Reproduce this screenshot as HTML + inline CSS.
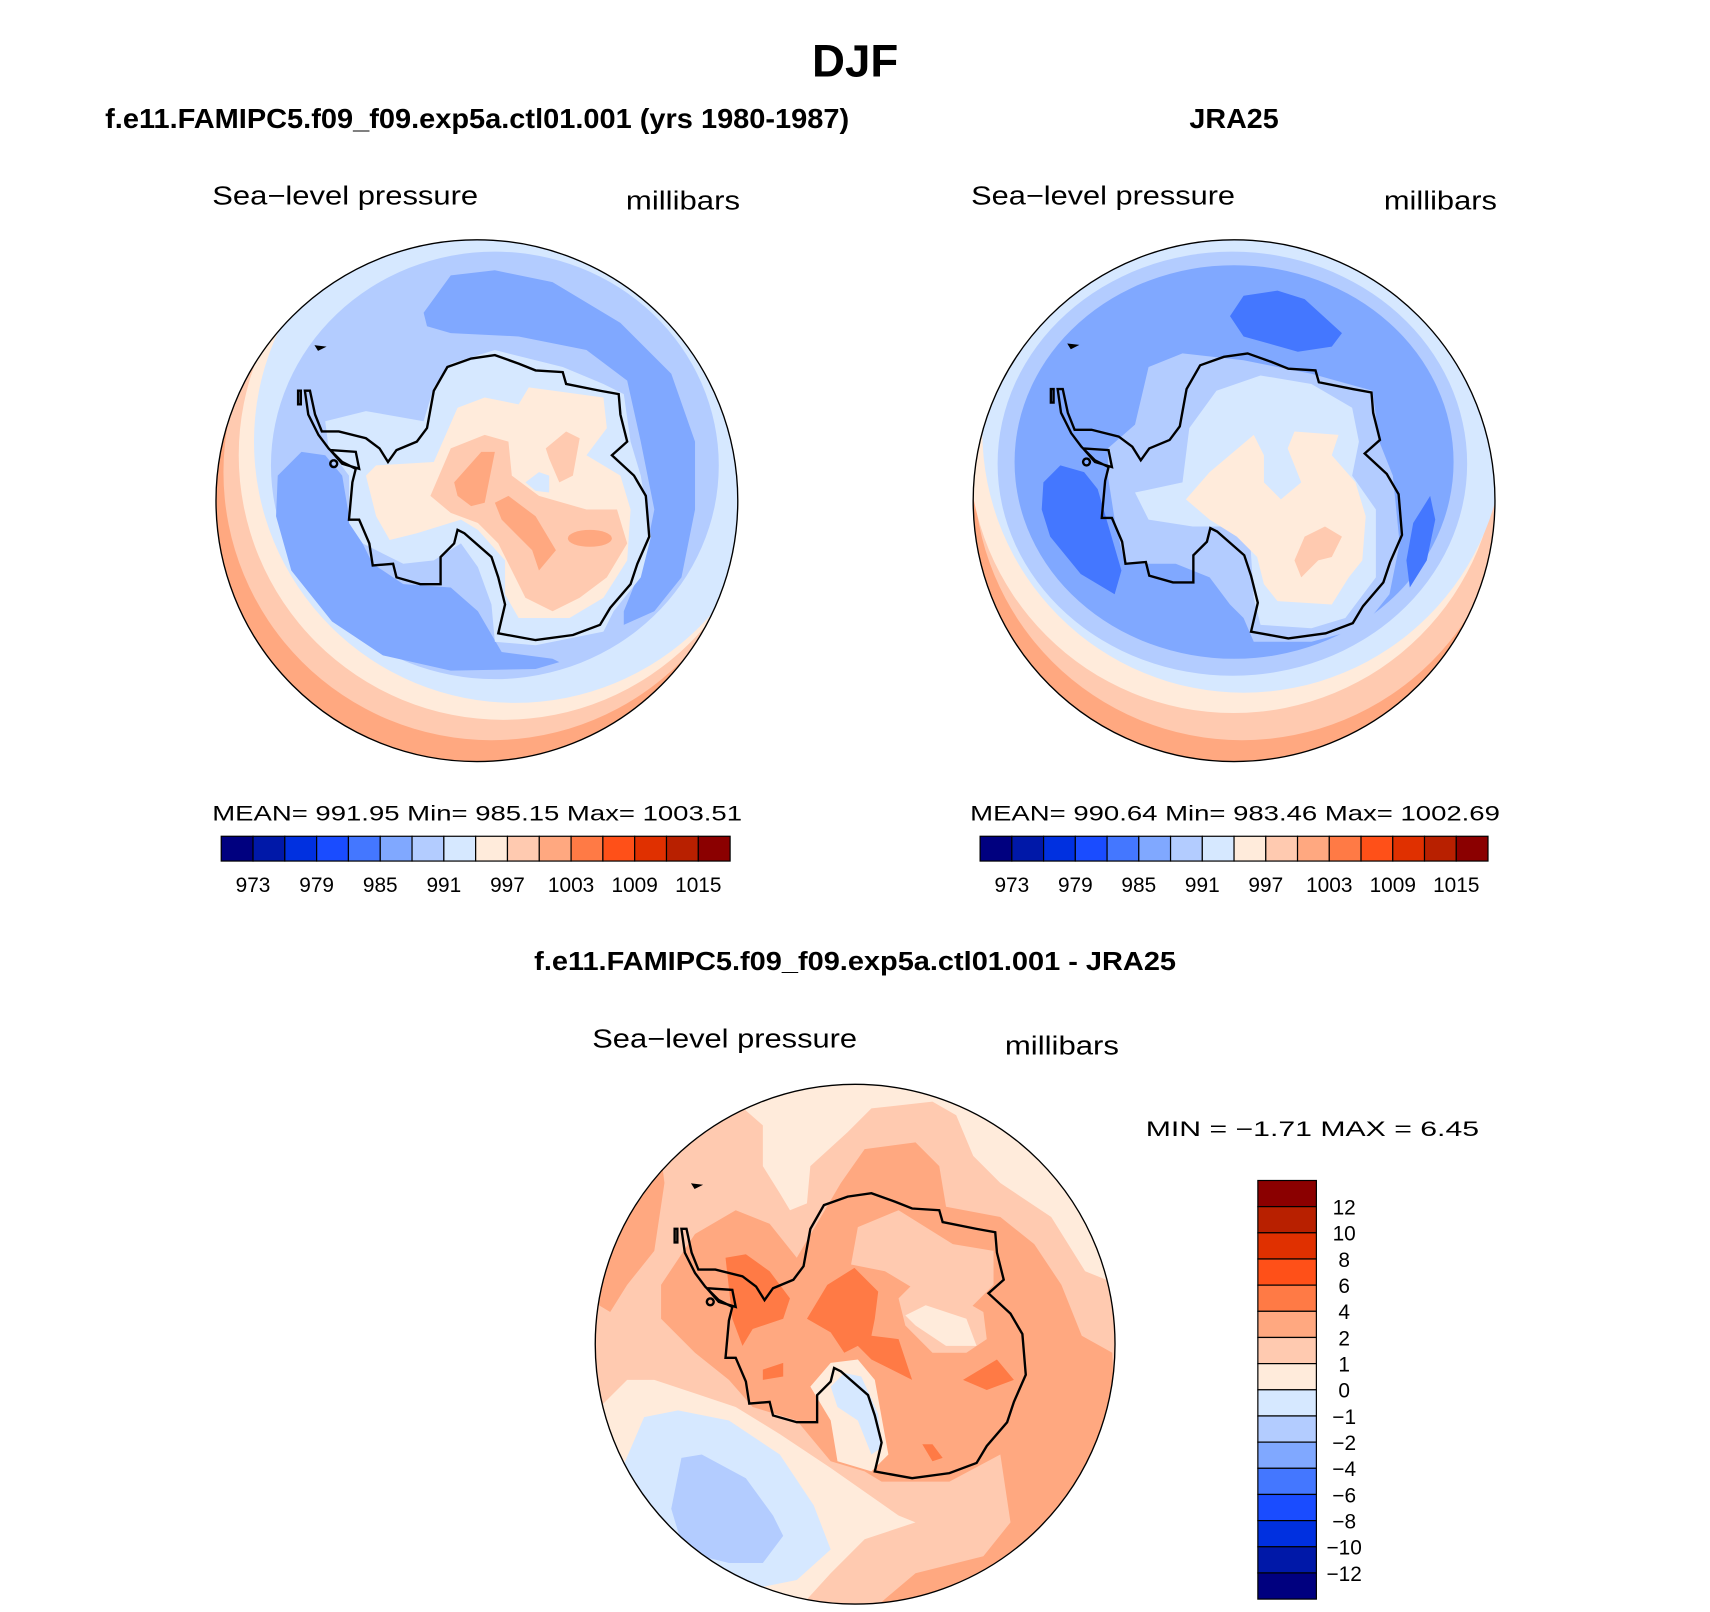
<!DOCTYPE html>
<html><head><meta charset="utf-8"><style>
html,body{margin:0;padding:0;background:#fff}
svg{display:block}
text{font-family:"Liberation Sans",sans-serif;fill:#000}
</style></head><body>
<svg id="root" width="1710" height="1612" viewBox="0 0 1710 1612" xmlns="http://www.w3.org/2000/svg">
<defs>
<clipPath id="cl"><circle cx="777" cy="774" r="769"/></clipPath>
<clipPath id="cr"><circle cx="772" cy="774" r="769"/></clipPath>
<clipPath id="cb"><circle cx="772" cy="775" r="766"/></clipPath>
<path id="coast" d="M285,450 L300,520 320,570 370,570 450,590 490,620 515,660 540,625 600,600 630,560 650,450 690,380 760,355 830,345 900,370 950,390 1030,395 1040,430 1140,450 1195,460 1200,520 1220,600 1175,640 1240,700 1275,760 1285,880 1250,960 1230,1020 1170,1090 1140,1140 1060,1170 950,1185 840,1165 860,1080 840,1000 820,940 740,870 720,860 710,900 670,940 670,1020 610,1020 540,1000 530,960 470,965 460,900 430,830 400,830 410,720 420,680 380,660 340,620 310,580 280,520 270,450 Z M345,625 L420,630 430,680 380,665 Z M355,655 a10,10 0 1,0 0.1,0 M250,450 L258,450 258,490 250,490 Z M305,320 L322,322 310,328 Z"/>
</defs>
<g transform="scale(0.992)">
<text x="862" y="77" text-anchor="middle" font-size="46" font-weight="bold">DJF</text>
<text x="106" y="129" font-size="28" font-weight="bold" textLength="750" lengthAdjust="spacingAndGlyphs">f.e11.FAMIPC5.f09_f09.exp5a.ctl01.001 (yrs 1980-1987)</text>
<text x="1244" y="129" text-anchor="middle" font-size="28" font-weight="bold" textLength="90" lengthAdjust="spacingAndGlyphs">JRA25</text>

<text x="214" y="206" font-size="26" textLength="268" lengthAdjust="spacingAndGlyphs">Sea−level pressure</text>
<text x="631" y="211" font-size="26" textLength="115" lengthAdjust="spacingAndGlyphs">millibars</text>
<text x="979" y="206" font-size="26" textLength="266" lengthAdjust="spacingAndGlyphs">Sea−level pressure</text>
<text x="1395" y="211" font-size="26" textLength="114" lengthAdjust="spacingAndGlyphs">millibars</text>

<!-- LEFT MAP -->
<g transform="translate(215,240) scale(0.342)">
<g clip-path="url(#cl)">
<circle cx="777" cy="774" r="769" fill="#ffa880"/>
<circle cx="820" cy="690" r="790" fill="#ffcab0"/>
<circle cx="855" cy="640" r="780" fill="#ffebdb"/>
<circle cx="890" cy="600" r="770" fill="#d6e8ff"/>
<ellipse cx="830" cy="670" rx="660" ry="630" fill="#b3ccff"/>
<path fill="#80a8ff" d="M620,220 L700,110 830,95 1000,130 1200,250 1350,400 1420,600 1420,800 1380,1000 1300,1100 1210,1140 1210,1100 1270,950 1300,800 1260,600 1220,420 1100,330 900,290 700,280 630,260 Z"/>
<path fill="#80a8ff" d="M190,700 L260,630 330,640 380,700 400,820 470,960 560,1020 700,1030 780,1100 850,1220 1000,1240 1020,1250 950,1270 700,1275 500,1230 350,1130 230,980 185,820 Z"/>
<path fill="#d6e8ff" d="M330,540 L450,510 620,540 650,440 700,370 830,330 1030,380 1150,430 1210,460 1230,600 1260,700 1290,880 1260,1000 1180,1100 1150,1160 950,1200 830,1190 820,1080 780,970 730,900 650,950 560,960 500,930 440,900 400,840 400,700 340,620 Z"/>
<path fill="#ffebdb" d="M450,700 L480,670 650,660 720,500 800,470 900,490 930,440 1150,470 1160,560 1100,640 1200,700 1230,800 1220,950 1150,1060 1050,1120 900,1120 860,1050 860,950 780,860 730,830 600,870 520,890 480,820 Z"/>
<path fill="#d6e8ff" d="M920,720 L960,690 990,700 990,750 950,745 Z"/>
<path fill="#ffcab0" d="M640,760 L700,620 800,580 870,600 880,700 960,760 1100,800 1190,800 1220,900 1160,1000 1080,1060 1000,1100 920,1060 880,980 840,900 780,840 700,810 Z M980,620 L1040,570 1080,590 1060,700 1020,720 990,650 Z"/>
<path fill="#ffa880" d="M710,720 L790,630 830,630 800,780 760,790 720,760 Z M830,780 L870,760 950,820 1010,920 960,980 940,920 850,830 Z"/>
<ellipse cx="1110" cy="885" rx="65" ry="25" fill="#ffa880"/>
<use href="#coast" fill="none" stroke="#000" stroke-width="7"/>
</g>
<circle cx="777" cy="774" r="769" fill="none" stroke="#000" stroke-width="4"/>
</g>

<!-- RIGHT MAP -->
<g transform="translate(980,240) scale(0.342)">
<g clip-path="url(#cr)">
<circle cx="772" cy="774" r="769" fill="#ffa880"/>
<circle cx="795" cy="690" r="790" fill="#ffcab0"/>
<circle cx="770" cy="620" r="780" fill="#ffebdb"/>
<circle cx="800" cy="570" r="770" fill="#d6e8ff"/>
<ellipse cx="767" cy="665" rx="692" ry="625" fill="#b3ccff"/>
<ellipse cx="772" cy="660" rx="647" ry="580" fill="#80a8ff"/>
<path fill="#4477ff" d="M760,230 L800,170 900,155 980,180 1090,280 1060,320 960,335 800,290 Z M210,720 L260,670 330,690 370,740 440,980 420,1050 320,990 230,880 205,800 Z M1300,840 L1350,760 1365,830 1340,950 1290,1030 1280,950 Z"/>
<path fill="#b3ccff" d="M480,550 L520,380 620,340 800,360 1000,400 1180,450 1200,600 1240,700 1260,900 1230,1050 1150,1150 1000,1190 830,1190 800,1120 760,1080 700,1000 600,960 450,960 420,830 400,700 400,620 Z"/>
<path fill="#d6e8ff" d="M480,750 L620,720 640,560 720,450 850,405 1000,430 1120,500 1140,600 1120,700 1190,800 1190,1000 1100,1120 1000,1150 850,1140 830,1060 820,900 760,850 650,850 520,830 Z"/>
<path fill="#ffebdb" d="M630,770 L700,690 830,580 860,640 860,720 910,770 970,720 930,620 950,570 1080,580 1060,640 1130,720 1160,820 1150,950 1110,1000 1060,1080 900,1070 860,1020 840,940 780,880 700,830 Z"/>
<path fill="#ffcab0" d="M980,880 L1040,850 1090,880 1060,940 1020,950 970,1000 950,950 Z"/>
<use href="#coast" transform="translate(-18,-5)" fill="none" stroke="#000" stroke-width="7"/>
</g>
<circle cx="772" cy="774" r="769" fill="none" stroke="#000" stroke-width="4"/>
</g>

<text x="214" y="827" font-size="21" textLength="534" lengthAdjust="spacingAndGlyphs">MEAN=  991.95    Min=  985.15    Max=  1003.51</text>
<text x="978" y="827" font-size="21" textLength="534" lengthAdjust="spacingAndGlyphs">MEAN=  990.64    Min=  983.46    Max=  1002.69</text>

<text x="862" y="978" text-anchor="middle" font-size="26" font-weight="bold" textLength="647" lengthAdjust="spacingAndGlyphs">f.e11.FAMIPC5.f09_f09.exp5a.ctl01.001 - JRA25</text>
<text x="597" y="1056" font-size="26" textLength="267" lengthAdjust="spacingAndGlyphs">Sea−level pressure</text>
<text x="1013" y="1063" font-size="26" textLength="115" lengthAdjust="spacingAndGlyphs">millibars</text>
<text x="1155" y="1145" font-size="21" textLength="336" lengthAdjust="spacingAndGlyphs">MIN =    −1.71  MAX =      6.45</text>

<!-- BOTTOM MAP -->
<g transform="translate(598,1090) scale(0.342)">
<g clip-path="url(#cb)">
<circle cx="772" cy="775" r="766" fill="#ffcab0"/>
<path fill="#ffebdb" d="M420,60 L500,130 500,250 550,330 580,380 630,360 640,250 750,150 820,80 1000,60 1070,100 1120,220 1200,300 1350,400 1450,560 1550,600 1550,0 400,0 Z"/>
<path fill="#ffa880" d="M730,300 L800,200 950,180 1020,250 1040,370 1200,400 1300,480 1380,600 1440,750 1530,800 1560,1560 820,1560 950,1450 1150,1400 1230,1300 1200,1100 1050,1180 850,1180 800,1150 700,1120 600,1000 470,960 400,880 300,800 200,700 200,600 300,450 420,380 520,420 600,520 Z"/>
<path fill="#ffa880" d="M0,300 L200,220 210,300 180,500 100,600 50,680 0,650 Z"/>
<path fill="#ffcab0" d="M780,430 L900,380 1060,480 1180,500 1180,600 1080,700 960,620 860,560 760,540 Z M900,640 L960,580 1080,640 1150,680 1160,760 1100,800 1000,800 920,720 Z"/>
<path fill="#ffebdb" d="M920,690 L980,660 1100,700 1130,780 1040,780 950,720 Z M640,900 L700,830 780,820 830,880 870,1100 820,1150 720,1120 700,1000 Z"/>
<path fill="#ffebdb" d="M0,980 L100,880 180,880 300,920 420,960 550,1040 700,1140 900,1280 950,1300 800,1350 700,1450 600,1560 0,1560 Z"/>
<path fill="#d6e8ff" d="M90,1130 L150,990 250,970 400,1000 550,1100 650,1250 700,1380 600,1470 450,1500 300,1450 150,1300 Z M700,900 L740,860 790,870 840,980 850,1080 820,1100 780,1000 720,960 Z M560,0 L680,0 650,20 570,25 Z"/>
<path fill="#b3ccff" d="M230,1260 L260,1110 320,1100 450,1170 530,1280 560,1340 500,1420 400,1420 320,1400 260,1360 Z"/>
<path fill="#ff7a45" d="M390,520 L450,510 520,560 580,640 560,700 470,730 440,780 410,700 Z M630,700 L690,600 770,550 840,620 830,700 820,750 900,760 940,880 820,820 780,780 740,800 700,740 Z M1090,880 L1190,820 1240,880 1160,910 Z M500,850 L560,830 560,870 500,880 Z M970,1070 L1000,1070 1030,1110 1000,1120 Z"/>
<use href="#coast" transform="translate(-10,-15)" fill="none" stroke="#000" stroke-width="7"/>
</g>
<circle cx="772" cy="775" r="766" fill="none" stroke="#000" stroke-width="4"/>
</g>

<g id="cbars"></g>
</g>
</svg>
<script>
var barColors = ["#00007f","#0018a8","#0030e0","#1a4cff","#4477ff","#80a8ff","#b3ccff","#d6e8ff","#ffebdb","#ffcab0","#ffa880","#ff7a45","#ff5018","#e03000","#b82000","#8b0000"];
var fullLevels = [973,976,979,982,985,988,991,994,997,1000,1003,1006,1009,1012,1015];
var fullTickLabels = ["973","979","985","991","997","1003","1009","1015"];
var diffLevels = [-12,-10,-8,-6,-4,-2,-1,0,1,2,4,6,8,10,12];
var diffTickLabels = ["-12","-10","-8","-6","-4","-2","-1","0","1","2","4","6","8","10","12"];

var NS = "http://www.w3.org/2000/svg";
var host = document.getElementById("cbars");
function mk(tag, attrs){var e=document.createElementNS(NS,tag);for(var k in attrs)e.setAttribute(k,attrs[k]);host.appendChild(e);return e;}

function hbar(x0, x1, y0, y1){
  var n = barColors.length, w = (x1-x0)/n;
  for (var i=0;i<n;i++){
    var r = mk("rect",{x:x0+i*w,y:y0,width:w,height:y1-y0,fill:barColors[i],stroke:"#000","stroke-width":1.2});
    
    
  }
  for (var j=0;j<fullLevels.length;j++){
    var lab = String(fullLevels[j]);
    if (fullTickLabels.indexOf(lab) < 0) continue;
    var t = mk("text",{x:x0+(j+1)*w,y:y1+31,"text-anchor":"middle","font-size":21});
    t.textContent = lab;
    
    
  }
}
hbar(223, 736, 843, 868);
hbar(988, 1500, 843, 868);

(function(){
  var x0=1268, x1=1327, y0=1190, y1=1612, n=barColors.length, h=(y1-y0)/n;
  for (var i=0;i<n;i++){
    var r = mk("rect",{x:x0,y:y0+i*h,width:x1-x0,height:h,fill:barColors[n-1-i],stroke:"#000","stroke-width":1.2});
    
    
  }
  for (var j=0;j<diffLevels.length;j++){
    var idx = diffLevels.length-1-j;
    var t = mk("text",{x:1355,y:y0+(j+1)*h+8,"text-anchor":"middle","font-size":21});
    t.textContent = diffTickLabels[idx].replace("-","−");
    
    
  }
})();
</script>
</body></html>
